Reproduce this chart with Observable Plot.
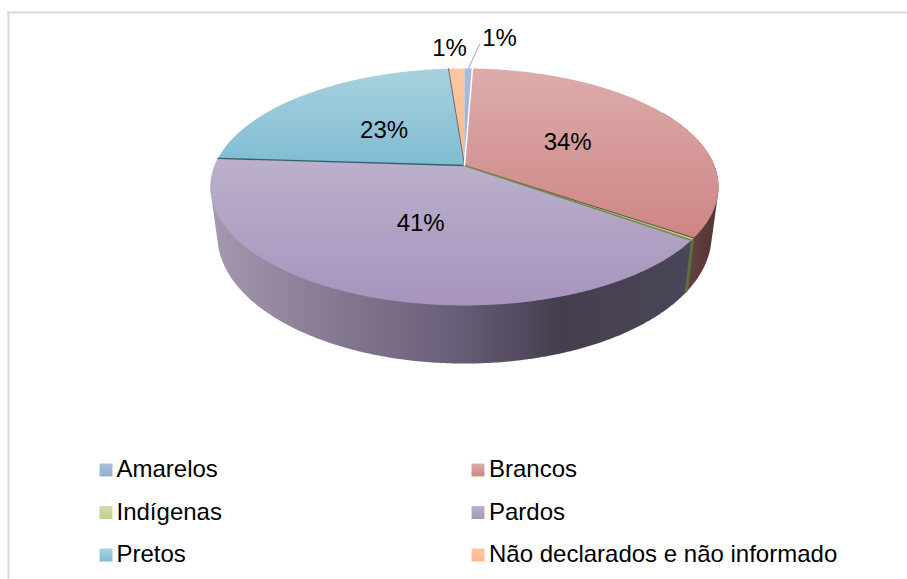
<!DOCTYPE html>
<html><head><meta charset="utf-8">
<script src="https://cdn.jsdelivr.net/npm/d3@7"></script>
<script src="https://cdn.jsdelivr.net/npm/@observablehq/plot@0.6"></script>
<style>html,body{margin:0;padding:0;background:#fff;overflow:hidden}svg{display:block}</style>
</head><body><div id="chart"></div>
<script>
const categories = ["Amarelos","Brancos","Indígenas","Pardos","Pretos","Não declarados e não informado"];
const shares = [0.6,34,0.3,41.1,22.8,1.2];
const shown = [true,true,false,true,true,true];
const grads = [
  ["#a9bcdc","#96aed6"],["#dcacab","#cd8584"],["#cfddb0","#bcd08f"],
  ["#bcb0cc","#a694bd"],["#a9d1de","#7fbcd2"],["#fdc6a3","#fbb98d"]];
const wallStops = {
  1:["#6a4442","#533331"],
  2:["#5f7a3c","#546b35"],
  3:["#a398ae","#857991","#6a5f78","#453e4f","#4a4558"]
};

// projected-disc geometry
const k = 0.181;
const topDisc = {cx:464, cy:165, A:249.8, B:114.6};
const botDisc = {cx:464, cy:212, A:243, B:123.7};
const proj = (d, th, r=1) => {
  const s = r*Math.sin(th), c = r*Math.cos(th), w = 1 + k*c;
  return [d.cx + d.A*s/w, d.cy - d.B*c/w];
};
const total = d3.sum(shares);
const cum = d3.cumsum(shares);
const arcs = shares.map((v,i)=>({i, a0:(cum[i]-v)/total*2*Math.PI, a1:cum[i]/total*2*Math.PI}));
const steps = (a0,a1) => { const n=Math.max(2,Math.ceil((a1-a0)/0.01)); return d3.range(n+1).map(j=>a0+(a1-a0)*j/n); };

const facePts = a => [proj(topDisc,0,0), ...steps(a.a0,a.a1).map(t=>proj(topDisc,t)), proj(topDisc,0,0)];
// the visible side of a slice is the hull of its top rim and its bottom rim
const wallPts = (a, from=a.a0) => {
  const t = steps(from, a.a1);
  const hull = d3.polygonHull([...t.map(x=>proj(topDisc,x)), ...t.map(x=>proj(botDisc,x))]);
  return [...hull, hull[0]];
};
const px = {x:d=>d[0], y:d=>d[1]};

const gradientDefs = () => {
  const g = d3.create("svg:g");
  const defs = g.append("defs");
  grads.forEach((c,i)=>{
    const lg = defs.append("linearGradient").attr("id","top"+i).attr("gradientUnits","userSpaceOnUse")
      .attr("x1",0).attr("x2",0).attr("y1",i===3?158:68).attr("y2",i===3?305:i===1||i===2?240:165);
    lg.append("stop").attr("offset",0).attr("stop-color",c[0]);
    lg.append("stop").attr("offset",1).attr("stop-color",c[1]);
    const sw = defs.append("linearGradient").attr("id","sw"+i).attr("x1",0).attr("x2",0).attr("y1",0).attr("y2",1);
    sw.append("stop").attr("offset",0).attr("stop-color",c[0]);
    sw.append("stop").attr("offset",1).attr("stop-color",c[1]);
  });
  Object.entries(wallStops).forEach(([i,cs])=>{
    const lg = defs.append("linearGradient").attr("id","wall"+i).attr("gradientUnits","userSpaceOnUse")
      .attr("x1",+i===3?215:680).attr("x2",+i===3?690:718).attr("y1",0).attr("y2",0);
    const off = cs.length===5?[0,.25,.5,.72,1]:[0,1];
    cs.forEach((c,j)=>lg.append("stop").attr("offset",off[j]).attr("stop-color",c));
  });
  return g.node();
};

const font = "Liberation Sans, Arial, sans-serif";
const FS = 24;

const labelPt = a => { const m=(a.a0+a.a1)/2; return proj(topDisc,m,0.48); };
const labelData = arcs.filter(a=>shown[a.i]&&shares[a.i]>=5).map(a=>({p:labelPt(a),t:d3.format(".0f")(shares[a.i])+"%"}));
const rimMid = a => proj(topDisc,(a.a0+a.a1)/2);
const small0 = rimMid(arcs[0]), small5 = rimMid(arcs[5]);

const legendRows = categories.map((c,i)=>({c,i,col:i%2,row:Math.floor(i/2)}));
const legX = col => col===0?[105.5,116]:[477.5,488.5];
const legY = row => 469.5+row*42.5;

const edge = t => [proj(topDisc,0,0), proj(topDisc,t)];

const marks = [
  gradientDefs,
  // frame
  Plot.ruleX([8],{y1:11,y2:579,stroke:"#d9d9d9",strokeWidth:2}),
  Plot.ruleY([12],{x1:7,x2:907,stroke:"#d9d9d9",strokeWidth:2}),
  // walls
  Plot.line(wallPts(arcs[1], Math.PI/3),{...px,fill:"url(#wall1)",stroke:"none"}),
  Plot.line(wallPts(arcs[3]),{...px,fill:"url(#wall3)",stroke:"none"}),
  Plot.line(wallPts(arcs[2]),{...px,fill:"url(#wall2)",stroke:"#5a6f3a",strokeWidth:1}),
  // top faces
  ...[1,2,3,4,5,0].map(i=>Plot.line(facePts(arcs[i]),{...px,fill:`url(#top${i})`,stroke:"none"})),
  // slice edges
  Plot.line(edge(arcs[2].a0),{...px,stroke:"#5a4a45",strokeWidth:1}),
  Plot.line(edge(arcs[2].a1),{...px,stroke:"#6f8f4a",strokeWidth:1.6}),
  Plot.line(edge(arcs[4].a0),{...px,stroke:"#33606f",strokeWidth:1.3}),
  Plot.line(edge(arcs[5].a0),{...px,stroke:"#6b6a66",strokeWidth:1}),
  Plot.line(edge(arcs[1].a0),{...px,stroke:"#ffffff",strokeWidth:1.5}),
  // leader
  Plot.line([small0,[small0[0]+11,small0[1]-24]],{...px,stroke:"#a6a6a6",strokeWidth:1}),
  // pct labels
  Plot.text(labelData,{x:d=>d.p[0],y:d=>d.p[1],dy:1,text:"t",fontSize:FS,fontFamily:font,fill:"#000"}),
  Plot.text([shares[0]],{x:small0[0],y:small0[1],dx:31,dy:-30,text:d=>d3.format(".0f")(d)+"%",fontSize:FS,fontFamily:font,fill:"#000"}),
  Plot.text([shares[5]],{x:small5[0],y:small5[1],dx:-7,dy:-20,text:d=>d3.format(".0f")(d)+"%",fontSize:FS,fontFamily:font,fill:"#000"}),
  // legend
  Plot.dot(legendRows,{x:d=>legX(d.col)[0],y:d=>legY(d.row),symbol:"square",r:7.3,fill:d=>`url(#sw${d.i})`,stroke:"none"}),
  Plot.text(legendRows,{x:d=>legX(d.col)[1],y:d=>legY(d.row),dy:-0.5,text:"c",textAnchor:"start",fontSize:FS,fontFamily:font,fill:"#000"})
];

const chart = Plot.plot({
  width:907,height:579,margin:0,
  x:{domain:[0,907],range:[0,907],axis:null},
  y:{domain:[0,579],range:[0,579],axis:null},
  symbol:{type:"identity"},
  marks
});
document.getElementById("chart").appendChild(chart);
</script></body></html>
